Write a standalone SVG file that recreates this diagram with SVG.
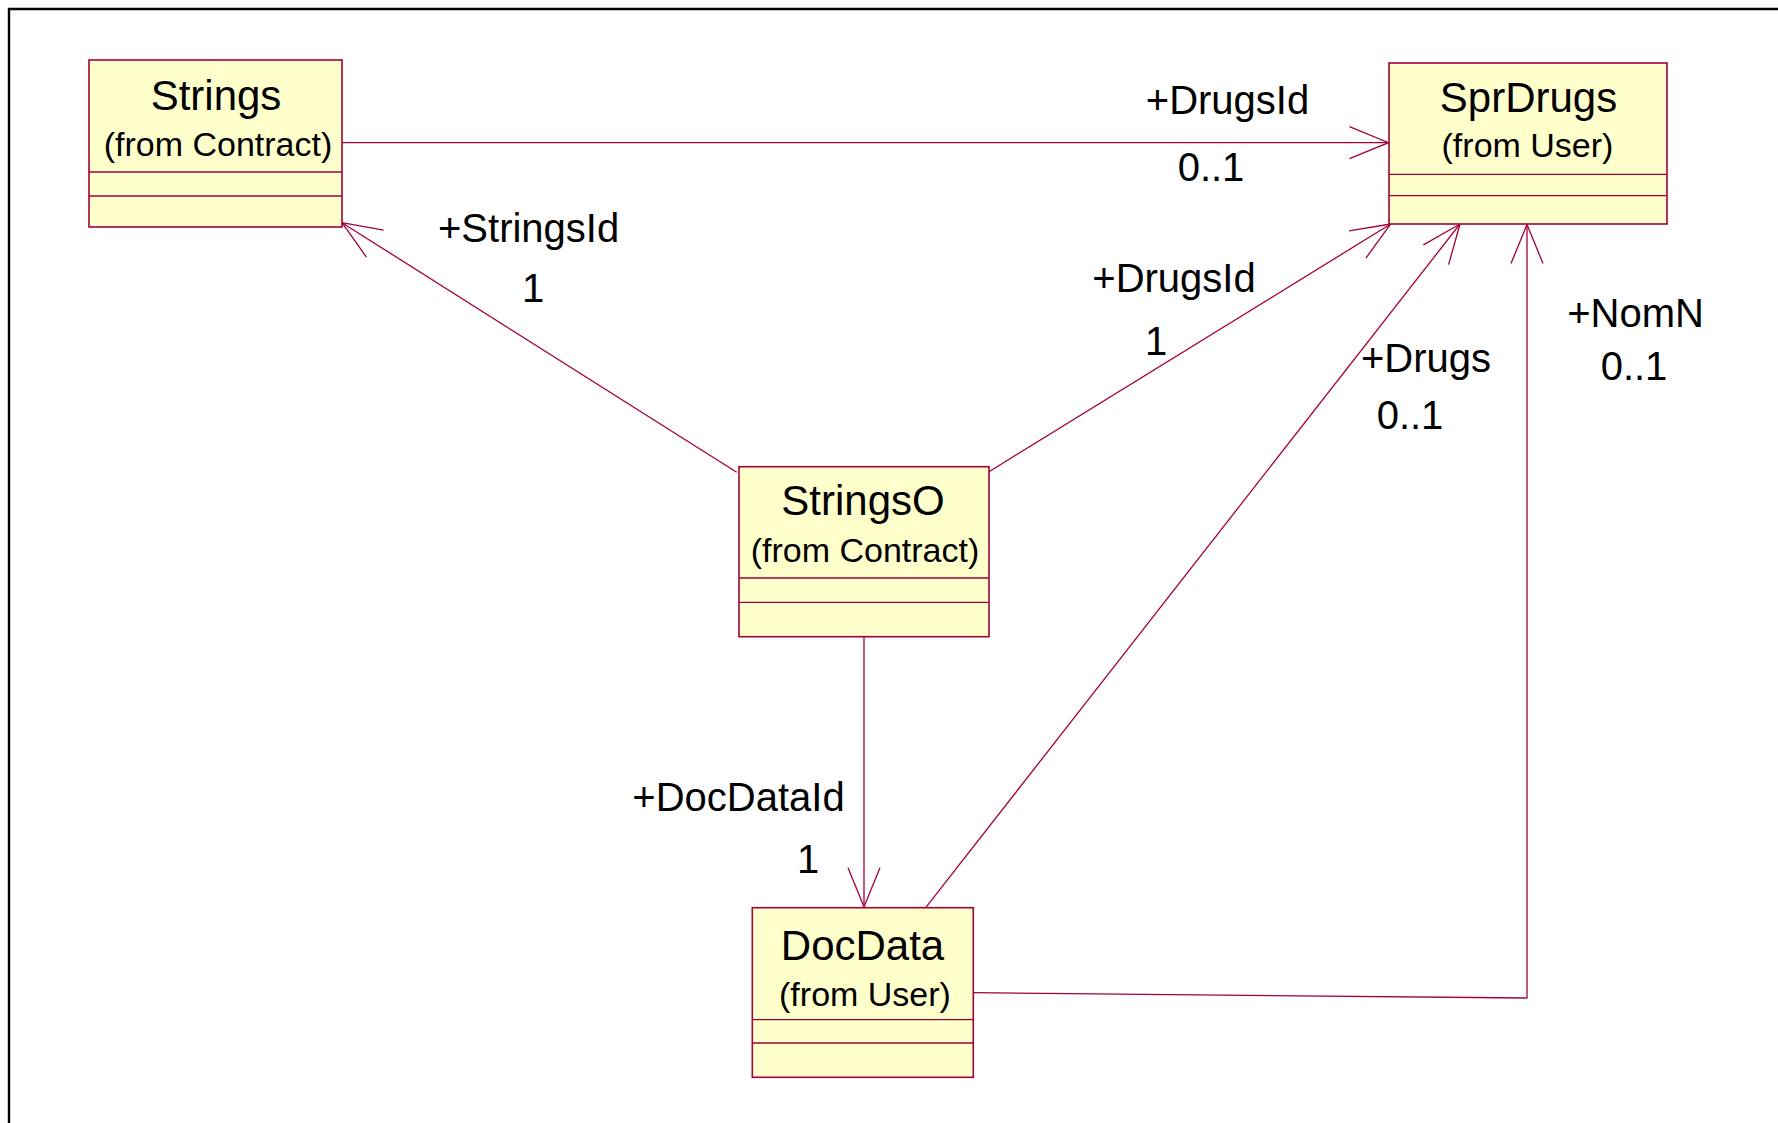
<svg xmlns="http://www.w3.org/2000/svg" width="1778" height="1123" viewBox="0 0 1778 1123">
<style>
.box{fill:#FFFFCC;stroke:#A5003A;stroke-width:1.6}
.sep{stroke:#A5003A;stroke-width:1.3}
.title{font-family:"Liberation Sans",Arial,sans-serif;font-size:42px;fill:#000;text-anchor:middle}
.sub{font-family:"Liberation Sans",Arial,sans-serif;font-size:34px;fill:#000;text-anchor:middle}
.lbl{font-family:"Liberation Sans",Arial,sans-serif;font-size:40px;fill:#000;text-anchor:middle}
.conn{fill:none;stroke:#A5003A;stroke-width:1.3}
</style>
<defs>
<marker id="open" markerUnits="userSpaceOnUse" markerWidth="50" markerHeight="40" viewBox="-45 -20 50 40" refX="0" refY="0" orient="auto">
<path d="M-39,-16 L0,0 L-39,16" fill="none" stroke="#A5003A" stroke-width="1.3"/>
</marker>
</defs>
<rect width="1778" height="1123" fill="#fff"/>
<g id="frame">
<path d="M9,1123 L9,9 L1778,9" fill="none" stroke="#000" stroke-width="2.4"/>
</g>
<g id="connectors">
<line class="conn" x1="342" y1="142.7" x2="1388.5" y2="142.7" marker-end="url(#open)"/>
<line class="conn" x1="736.7" y1="472.3" x2="342" y2="222.7" marker-end="url(#open)"/>
<line class="conn" x1="989" y1="471.7" x2="1390.7" y2="224" marker-end="url(#open)"/>
<line class="conn" x1="925.7" y1="907.7" x2="1460" y2="224" marker-end="url(#open)"/>
<line class="conn" x1="864" y1="636.7" x2="864" y2="906.7" marker-end="url(#open)"/>
<polyline class="conn" points="973.3,992.7 1527,998 1527,224.5" marker-end="url(#open)"/>
</g>
<g id="labels">
<text class="lbl" x="1227.5" y="114">+DrugsId</text>
<text class="lbl" x="1211" y="181">0..1</text>
<text class="lbl" x="528.6" y="242">+StringsId</text>
<text class="lbl" x="533" y="302">1</text>
<text class="lbl" x="1174" y="292">+DrugsId</text>
<text class="lbl" x="1156" y="355">1</text>
<text class="lbl" x="1426" y="372">+Drugs</text>
<text class="lbl" x="1410" y="429">0..1</text>
<text class="lbl" x="1635.5" y="327">+NomN</text>
<text class="lbl" x="1634" y="380">0..1</text>
<text class="lbl" x="738.5" y="811">+DocDataId</text>
<text class="lbl" x="808" y="873">1</text>
</g>
<g id="Strings">
<rect class="box" x="89" y="60" width="253" height="167"/>
<line class="sep" x1="89" y1="172" x2="342" y2="172"/>
<line class="sep" x1="89" y1="196" x2="342" y2="196"/>
<text class="title" x="216" y="110">Strings</text>
<text class="sub" x="218" y="156">(from Contract)</text>
</g>
<g id="SprDrugs">
<rect class="box" x="1389" y="63" width="278" height="161"/>
<line class="sep" x1="1389" y1="174.3" x2="1667" y2="174.3"/>
<line class="sep" x1="1389" y1="195.7" x2="1667" y2="195.7"/>
<text class="title" x="1528.5" y="111.7">SprDrugs</text>
<text class="sub" x="1527.5" y="157.3">(from User)</text>
</g>
<g id="StringsO">
<rect class="box" x="739" y="466.7" width="250" height="170"/>
<line class="sep" x1="739" y1="578" x2="989" y2="578"/>
<line class="sep" x1="739" y1="602.3" x2="989" y2="602.3"/>
<text class="title" x="863" y="515">StringsO</text>
<text class="sub" x="865" y="561.7">(from Contract)</text>
</g>
<g id="DocData">
<rect class="box" x="752.3" y="907.7" width="221" height="169.6"/>
<line class="sep" x1="752.3" y1="1019.7" x2="973.3" y2="1019.7"/>
<line class="sep" x1="752.3" y1="1043" x2="973.3" y2="1043"/>
<text class="title" x="862.5" y="960">DocData</text>
<text class="sub" x="865" y="1006">(from User)</text>
</g>
</svg>
